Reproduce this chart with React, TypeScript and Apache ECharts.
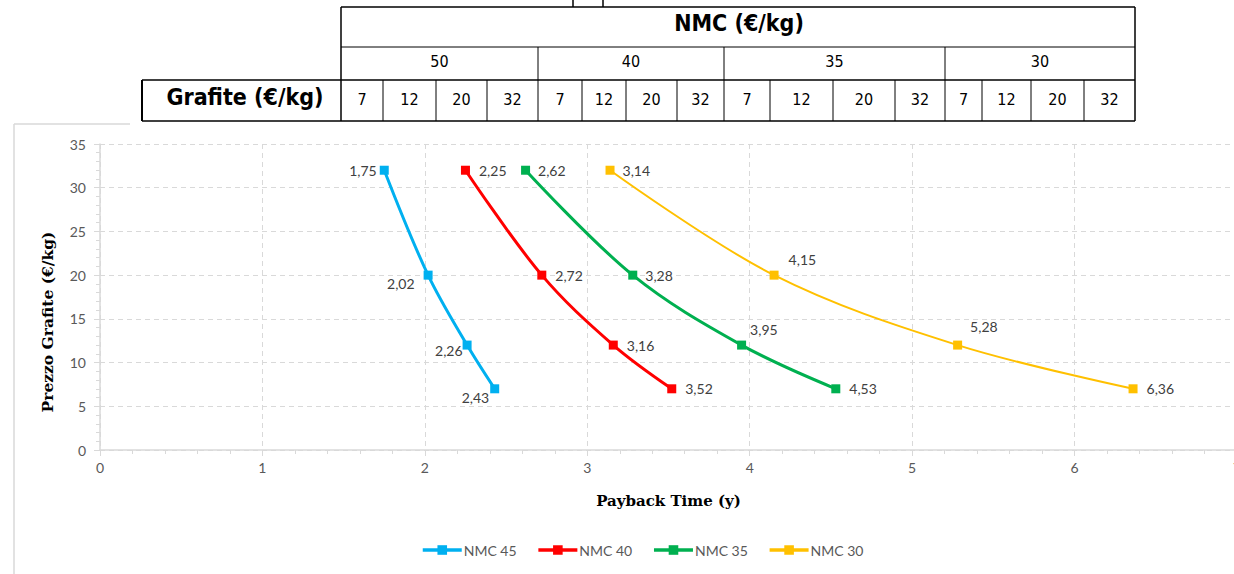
import React, { useEffect, useRef } from "react";
import * as echarts from "echarts";

const grafitePrices = [32, 20, 12, 7];
const nmcGroups = ["50", "40", "35", "30"];
const grafiteCols = ["7", "12", "20", "32"];
const seriesNames = ["NMC 45", "NMC 40", "NMC 35", "NMC 30"];
const payback45 = [1.75, 2.02, 2.26, 2.43];
const payback40 = [2.25, 2.72, 3.16, 3.52];
const payback35 = [2.62, 3.28, 3.95, 4.53];
const payback30 = [3.14, 4.15, 5.28, 6.36];
const colors = ["#00B0F0", "#FF0000", "#00B050", "#FFC000"];

const LBL = "Lato, 'Liberation Sans', sans-serif";
const TBL = "'DejaVu Sans Condensed', 'DejaVu Sans', sans-serif";
const SERIF = "'DejaVu Serif', 'Liberation Serif', serif";

const fmt = (p: any) => Number(p.value[0]).toFixed(2).replace(".", ",");

function buildTable() {
  const els: any[] = [];
  const line = (x1: number, y1: number, x2: number, y2: number, w = 1.5) =>
    els.push({ type: "line", shape: { x1, y1, x2, y2 }, style: { stroke: "#000", lineWidth: w }, z: 10 });
  const text = (x: number, y: number, t: string, size: number, bold = false) =>
    els.push({
      type: "text",
      x,
      y,
      style: { text: t, fill: "#000", font: `${bold ? "bold " : ""}${size}px ${TBL}`, align: "center", verticalAlign: "middle" },
      z: 11,
    });
  // chart frame
  els.push({ type: "line", shape: { x1: 14, y1: 124, x2: 130, y2: 124 }, style: { stroke: "#d9d9d9", lineWidth: 1.5 } });
  els.push({ type: "line", shape: { x1: 14, y1: 124, x2: 14, y2: 574 }, style: { stroke: "#d9d9d9", lineWidth: 1.5 } });
  // y axis title
  els.push({
    type: "text",
    x: 47,
    y: 322,
    rotation: Math.PI / 2,
    style: {
      text: "Prezzo Grafite (€/kg)",
      fill: "#000",
      font: `bold 15.5px ${SERIF}`,
      align: "center",
      verticalAlign: "middle",
    },
  });
  // background for table
  els.push({ type: "rect", shape: { x: 341, y: 7, width: 794, height: 114 }, style: { fill: "#fff" }, z: 9 });
  els.push({ type: "rect", shape: { x: 142, y: 80, width: 199, height: 41 }, style: { fill: "#fff" }, z: 9 });
  // artifact at the top
  line(573, 0, 573, 7, 1.5);
  line(603, 0, 603, 7, 1.5);
  const groupX = [341, 538, 724, 945, 1135];
  const colX = [341, 383, 436, 487, 538, 582, 626, 677, 724, 770, 833, 895, 945, 982, 1031, 1084, 1135];
  line(341, 7, 1135, 7, 1.5);
  line(341, 47, 1135, 47, 1);
  line(142, 80, 1135, 80, 1.5);
  line(142, 121, 1135, 121, 1.5);
  line(142, 80, 142, 121, 2);
  line(341, 7, 341, 121, 1.5);
  line(1135, 7, 1135, 121, 1.5);
  groupX.slice(1, 4).forEach((x) => line(x, 47, x, 121, 1));
  colX.forEach((x) => {
    if (!groupX.includes(x)) line(x, 80, x, 121, 1);
  });
  text(739, 23, "NMC (€/kg)", 23, true);
  text(245, 97, "Grafite (€/kg)", 23, true);
  for (let g = 0; g < 4; g++) {
    text((groupX[g] + groupX[g + 1]) / 2, 61, nmcGroups[g], 16);
    for (let c = 0; c < 4; c++) {
      const i = g * 4 + c;
      text((colX[i] + colX[i + 1]) / 2, 99, grafiteCols[c], 16);
    }
  }
  return els;
}

type LabelSpec = { position: string; distance: number; offset: number[] };

function mkSeries(idx: number, xs: number[], lw: number, labels: LabelSpec[]) {
  return {
    name: seriesNames[idx],
    type: "line",
    smooth: 0.35,
    symbol: "rect",
    symbolSize: 9,
    color: colors[idx],
    lineStyle: { width: lw, color: colors[idx] },
    itemStyle: { color: colors[idx] },
    data: xs.map((x, i) => ({
      value: [x, grafitePrices[i]],
      label: {
        show: true,
        position: labels[i].position,
        distance: labels[i].distance,
        offset: labels[i].offset,
        formatter: fmt,
        color: "#404040",
        fontSize: 14,
        fontFamily: LBL,
      },
    })),
  };
}

export default function App() {
  const ref = useRef<HTMLDivElement>(null);
  useEffect(() => {
    if (!ref.current) return;
    const chart = echarts.init(ref.current, undefined, { renderer: "svg" });
    const R = (d = 8, o = [0, 0]) => ({ position: "right", distance: d, offset: o });
    const L = (d = 4, o = [0, 0]) => ({ position: "left", distance: d, offset: o });
    chart.setOption({
      animation: false,
      backgroundColor: "#fff",
      grid: { left: 100, top: 144, width: 1137, bottom: 124, containLabel: false, outerBoundsMode: "none" },
      legend: {
        left: 416,
        top: 538,
        itemWidth: 39,
        itemHeight: 12,
        itemGap: 20,
        lineStyle: { width: 3.5 },
        textStyle: { color: "#595959", fontSize: 14, fontFamily: LBL, padding: [0, 0, 0, -3] },
        data: seriesNames,
      },
      xAxis: {
        type: "value",
        min: 0,
        max: 7,
        interval: 1,
        name: "Payback Time (y)",
        nameLocation: "middle",
        nameGap: 43,
        nameTextStyle: { fontFamily: SERIF, fontWeight: "bold", fontSize: 15, color: "#000" },
        axisLine: { show: true, lineStyle: { color: "#d9d9d9", width: 1.5 } },
        axisTick: { show: true, length: 6, lineStyle: { color: "#d9d9d9" } },
        minorTick: { show: true, splitNumber: 5, length: 4, lineStyle: { color: "#d9d9d9" } },
        axisLabel: { color: "#595959", fontSize: 14, fontFamily: LBL, margin: 10 },
        splitLine: { show: true, lineStyle: { color: "#d9d9d9", type: [5, 4] } },
      },
      yAxis: {
        type: "value",
        min: 0,
        max: 35,
        interval: 5,
        axisLine: { show: true, lineStyle: { color: "#d9d9d9", width: 1.5 } },
        axisTick: { show: true, length: 6, lineStyle: { color: "#d9d9d9" } },
        minorTick: { show: true, splitNumber: 5, length: 4, lineStyle: { color: "#d9d9d9" } },
        axisLabel: { color: "#595959", fontSize: 14, fontFamily: LBL, margin: 14 },
        splitLine: { show: true, lineStyle: { color: "#d9d9d9", type: [5, 4] } },
      },
      graphic: buildTable(),
      series: [
        mkSeries(0, payback45, 3, [L(3, [0, 0]), L(5, [-4, 8]), L(0, [0, 5]), L(1, [0, 9])]),
        mkSeries(1, payback40, 3, [R(9), R(9), R(9), R(9)]),
        mkSeries(2, payback35, 3, [R(8), R(8), R(4, [0, -16]), R(9)]),
        mkSeries(3, payback30, 2, [R(8), R(10, [0, -16]), R(8, [0, -19]), R(9)]),
      ],
    });
    return () => chart.dispose();
  }, []);
  return <div ref={ref} style={{ position: "fixed", left: 0, top: 0, width: 1234, height: 574 }} />;
}
